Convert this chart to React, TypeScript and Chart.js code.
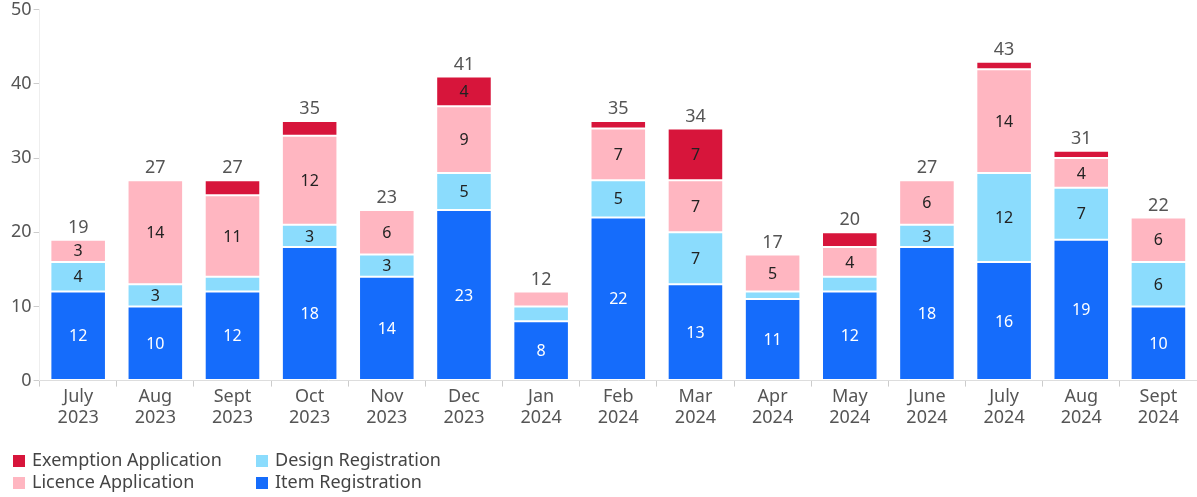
import React, { useEffect, useRef } from "react";
import { Chart, registerables } from "chart.js";

Chart.register(...registerables);

const categories: string[][] = [
  ["July", "2023"], ["Aug", "2023"], ["Sept", "2023"], ["Oct", "2023"], ["Nov", "2023"],
  ["Dec", "2023"], ["Jan", "2024"], ["Feb", "2024"], ["Mar", "2024"], ["Apr", "2024"],
  ["May", "2024"], ["June", "2024"], ["July", "2024"], ["Aug", "2024"], ["Sept", "2024"],
];

const itemRegistration = [12, 10, 12, 18, 14, 23, 8, 22, 13, 11, 12, 18, 16, 19, 10];
const designRegistration = [4, 3, 2, 3, 3, 5, 2, 5, 7, 1, 2, 3, 12, 7, 6];
const licenceApplication = [3, 14, 11, 12, 6, 9, 2, 7, 7, 5, 4, 6, 14, 4, 6];
const exemptionApplication = [0, 0, 2, 2, 0, 4, 0, 1, 7, 0, 2, 0, 1, 1, 0];

const yTicks = [0, 10, 20, 30, 40, 50];

const FONT = "'Noto Sans', sans-serif";
const OFFSET = 3;

const legendOrder = [
  "Exemption Application",
  "Licence Application",
  "Design Registration",
  "Item Registration",
];

const labelPlugin = {
  id: "labelsAndLegend",
  afterDatasetsDraw(chart: any) {
    const ctx = chart.ctx;
    const ds = chart.data.datasets;
    ctx.save();
    ctx.textAlign = "center";
    ctx.textBaseline = "middle";
    ctx.font = `16px ${FONT}`;
    ds.forEach((d: any, i: number) => {
      const meta = chart.getDatasetMeta(i);
      meta.data.forEach((el: any, j: number) => {
        const v = d.data[j];
        if (v >= 3) {
          ctx.fillStyle = i === 0 ? "#ffffff" : "#222222";
          ctx.fillText(String(v), el.x, (el.y + el.base) / 2 + 1);
        }
      });
    });
    const y = chart.scales.y;
    const meta0 = chart.getDatasetMeta(0);
    ctx.font = `18px ${FONT}`;
    ctx.fillStyle = "#555555";
    ctx.textBaseline = "bottom";
    categories.forEach((_, j) => {
      let total = 0;
      ds.forEach((d: any) => (total += d.data[j]));
      const x = meta0.data[j].x;
      ctx.fillText(String(total), x, y.getPixelForValue(total) - 3);
    });
    ctx.restore();
  },
  afterDraw(chart: any) {
    const ctx = chart.ctx;
    ctx.save();
    ctx.font = `18px ${FONT}`;
    ctx.textBaseline = "middle";
    ctx.textAlign = "left";
    legendOrder.forEach((name, k) => {
      const d = chart.data.datasets.find((x: any) => x.label === name);
      const col = Math.floor(k / 2);
      const row = k % 2;
      const bx = col === 0 ? 13 : 256;
      const cy = (row === 0 ? 461 : 483) + OFFSET;
      ctx.fillStyle = d.backgroundColor;
      ctx.fillRect(bx, cy - 6, 12, 12);
      ctx.fillStyle = "#444444";
      ctx.fillText(name, bx + 19, cy);
    });
    ctx.restore();
  },
};

export default function App() {
  const ref = useRef<HTMLCanvasElement>(null);
  useEffect(() => {
    if (!ref.current) return;
    const chart = new Chart(ref.current, {
      type: "bar",
      data: {
        labels: categories,
        datasets: [
          { label: "Item Registration", data: itemRegistration, backgroundColor: "#156cfb" },
          { label: "Design Registration", data: designRegistration, backgroundColor: "#8bdcfd" },
          { label: "Licence Application", data: licenceApplication, backgroundColor: "#ffb6c1" },
          { label: "Exemption Application", data: exemptionApplication, backgroundColor: "#d7153b" },
        ].map((d) => ({
          ...d,
          borderColor: "rgba(255,255,255,0.9)",
          borderWidth: 1,
          borderSkipped: false,
          categoryPercentage: 0.8,
          barPercentage: 0.9,
        })),
      },
      options: {
        animation: false,
        responsive: false,
        maintainAspectRatio: false,
        layout: { padding: { left: 9, right: 0, top: 0, bottom: 69 } },
        plugins: { legend: { display: false }, tooltip: { enabled: false } },
        scales: {
          x: {
            stacked: true,
            grid: { display: true, drawOnChartArea: false, tickLength: 6, color: "#cccccc", offset: true },
            border: { color: "#dddddd" },
            ticks: { color: "#555555", font: { family: FONT, size: 18, lineHeight: 1.15 }, padding: 0, maxRotation: 0 },
          },
          y: {
            stacked: true,
            min: 0,
            max: 50,
            afterBuildTicks: (s: any) => {
              s.ticks = yTicks.map((v) => ({ value: v }));
            },
            grid: { display: true, drawOnChartArea: false, tickLength: 6, color: "#cccccc" },
            border: { color: "#eeeeee" },
            ticks: { color: "#555555", font: { family: FONT, size: 18 }, padding: 2 },
          },
        },
      },
      plugins: [labelPlugin],
    });
    return () => chart.destroy();
  }, []);
  return (
    <div style={{ position: "absolute", left: 0, top: -OFFSET, width: 1197, height: 497 + OFFSET }}>
      <canvas
        ref={ref}
        width={1197}
        height={497 + OFFSET}
        style={{ width: 1197, height: 497 + OFFSET, display: "block" }}
      />
    </div>
  );
}
